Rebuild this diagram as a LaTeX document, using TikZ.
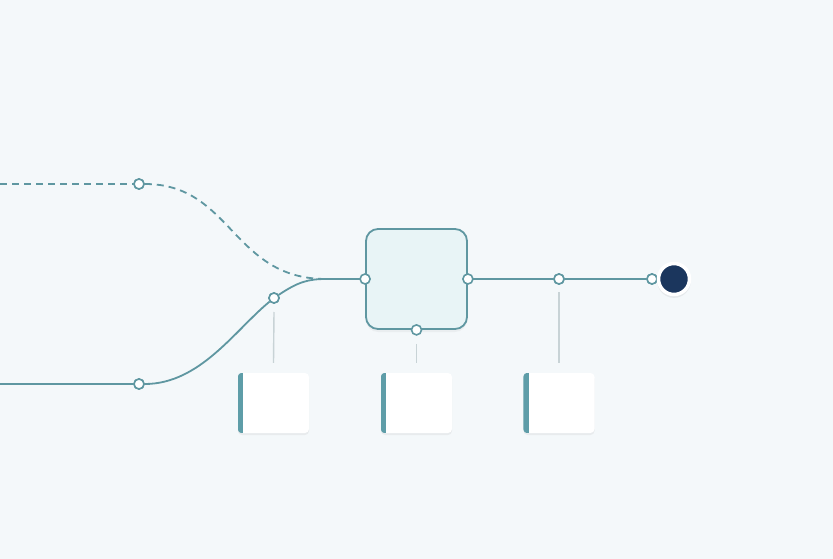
\documentclass[tikz,border=0pt]{standalone}
\usetikzlibrary{shadows,calc}
\definecolor{bg}{HTML}{F4F8FA}
\definecolor{teal1}{HTML}{5F97A1}
\definecolor{accent}{HTML}{5E9DA8}
\definecolor{boxfill}{HTML}{E8F4F6}
\definecolor{stem}{HTML}{C8D3D6}
\definecolor{navy}{HTML}{1B365D}
\tikzset{
  flow/.style={draw=teal1, line width=1.8pt},
  dflow/.style={draw=teal1, line width=1.8pt, dash pattern=on 7pt off 5pt},
  port/.style={circle, draw=teal1, fill=white, line width=1.6pt, minimum size=10pt, inner sep=0pt},
  stembar/.style={draw=stem, line width=1.4pt},
  procbox/.style={draw=teal1, fill=boxfill, line width=1.8pt, rounded corners=12pt, minimum width=101pt, minimum height=100pt, inner sep=0pt,
    drop shadow={opacity=0.08, shadow xshift=0pt, shadow yshift=-3pt}},
  card/.style={fill=white, rounded corners=4pt, minimum width=71pt, minimum height=60pt, inner sep=0pt,
    drop shadow={opacity=0.10, shadow xshift=0pt, shadow yshift=-2pt}},
  sink/.style={circle, fill=navy, draw=white, line width=3.5pt, minimum size=31pt, inner sep=0pt,
    drop shadow={opacity=0.12, shadow xshift=0pt, shadow yshift=-2pt, shadow scale=1.08}},
}
\begin{document}
\begin{tikzpicture}[x=1pt, y=-1pt]
\fill[bg] (0,0) rectangle (833,559);
\useasboundingbox (0,0) rectangle (833,559);

% box
\node[procbox] (box) at (416.5,279) {};

% cards
\foreach \n/\x in {c1/273.5, c2/416.5, c3/559}{
  \node[card] (\n) at (\x,403) {};
  \begin{scope}
    \clip[rounded corners=4pt] (\n.south west) rectangle (\n.north east);
    \fill[accent] (\n.south west) rectangle ([xshift=5.5pt]\n.north west);
  \end{scope}
}

% coordinates
\coordinate (dstart) at (0,184);
\coordinate (bstart) at (0,384);
\coordinate (join) at (326,279);

% ports
\node[port] (d1) at (139,184) {};
\node[port] (b1) at (139,384) {};
\node[port] (b2) at (274,298) {};
\node[port] (r1) at (559,279) {};
\node[port] (r2) at (652,279) {};

% flows
\draw[dflow] (dstart) -- (d1);
\draw[dflow] (d1) .. controls (232,184) and (232,279) .. (join);
\draw[flow] (bstart) -- (b1);
\draw[flow] (b1) .. controls (200,384) and (235,330) .. (b2);
\draw[flow] (b2) .. controls (298,282) and (308,279) .. (join);
\draw[flow] (join) -- (box.west);
\draw[flow] (box.east) -- (r1);
\draw[flow] (r1) -- (r2);

% stems
\draw[stembar] ($(b2)+(0,14)$) -- ($(c1.north)+(0,-10)$);
\draw[stembar] ($(box.south)+(0,14)$) -- ($(c2.north)+(0,-10)$);
\draw[stembar] ($(r1)+(0,13)$) -- ($(c3.north)+(0,-10)$);

% ports drawn on top
\node[port] (bw) at (box.west) {};
\node[port] (be) at (box.east) {};
\node[port] (bs) at (box.south) {};
\node[port] (b2x) at (b2) {};
\node[port] (d1x) at (d1) {};
\node[port] (b1x) at (b1) {};
\node[port] (r1x) at (r1) {};
\node[port] (r2x) at (r2) {};

% sink
\node[sink] (end) at (674,279) {};
\end{tikzpicture}
\end{document}
